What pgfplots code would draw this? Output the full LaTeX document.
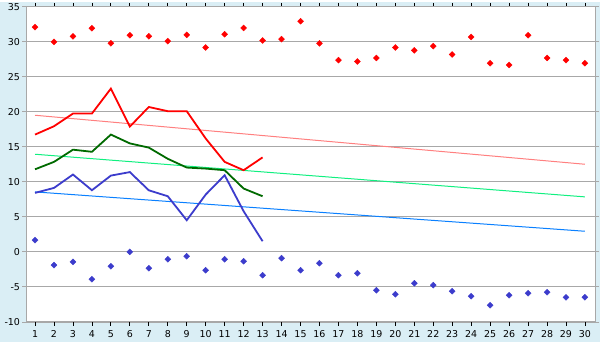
\documentclass[border=0pt]{standalone}
\usepackage{pgfplots}
\pgfplotsset{compat=1.18}
\usepackage{fontspec}
\setmainfont{DejaVu Sans}
\definecolor{bgblue}{HTML}{DAEEF5}
\definecolor{gridgray}{HTML}{A8A8A8}
\definecolor{lred}{HTML}{FF8080}
\definecolor{dgreen}{HTML}{006A00}
\definecolor{lgreen}{HTML}{10F080}
\definecolor{mblue}{HTML}{3C3CCC}
\definecolor{tblue}{HTML}{0A80FF}
\begin{document}
\begin{tikzpicture}[x=1bp,y=1bp]
\fill[bgblue] (-26.5bp,-20bp) rectangle (573.5bp,320bp);
\begin{axis}[
  scale only axis, width=568.5bp, height=315bp,
  at={(0,0)}, anchor=south west,
  xmin=0.55, xmax=30.53, ymin=-10, ymax=35,
  xtick={1,...,30}, ytick={-10,-5,...,35},
  axis background/.style={fill=white},
  axis line style={draw=gridgray, line width=1bp},
  ymajorgrids, grid style={gridgray, line width=0.8bp},
  tick align=outside, major tick length=4bp,
  tick style={black, line width=0.8bp},
  xtick style={black}, ytick style={gridgray},
  /pgf/number format/assume math mode=true,
  tick label style={font=\fontsize{9.5}{11}\selectfont},
  xticklabel style={yshift=-1bp},
  yticklabel style={xshift=1bp},
  clip=false,
]
% trend lines
\addplot[lred, line width=1bp, no marks] coordinates {(1,19.52)(30,12.52)};
\addplot[lgreen, line width=1bp, no marks] coordinates {(1,13.95)(30,7.86)};
\addplot[tblue, line width=1bp, no marks] coordinates {(1,8.57)(30,2.95)};
% lines
\addplot[red, line width=1.8bp, no marks] coordinates {
(1,16.76)(2,17.95)(3,19.76)(4,19.76)(5,23.33)(6,17.9)(7,20.7)(8,20.1)(9,20.1)(10,16.2)(11,12.86)(12,11.67)(13,13.5)};
\addplot[dgreen, line width=1.8bp, no marks] coordinates {
(1,11.8)(2,12.86)(3,14.6)(4,14.3)(5,16.76)(6,15.5)(7,14.9)(8,13.3)(9,12.05)(10,11.9)(11,11.67)(12,9.05)(13,7.95)};
\addplot[mblue, line width=1.8bp, no marks] coordinates {
(1,8.43)(2,9.14)(3,11.05)(4,8.81)(5,10.9)(6,11.4)(7,8.8)(8,7.95)(9,4.52)(10,8.19)(11,10.95)(12,5.81)(13,1.52)};
% max markers
\addplot[red, only marks, mark=square*, mark size=2.1bp, mark options={rotate=45}] coordinates {
(1,32.1)(2,30)(3,30.8)(4,31.95)(5,29.8)(6,30.95)(7,30.8)(8,30.1)(9,31.0)(10,29.2)
(11,31.1)(12,32.0)(13,30.2)(14,30.4)(15,32.95)(16,29.8)(17,27.4)(18,27.2)(19,27.7)(20,29.2)
(21,28.8)(22,29.4)(23,28.2)(24,30.7)(25,26.95)(26,26.7)(27,30.95)(28,27.7)(29,27.4)(30,26.95)};
% min markers
\addplot[mblue, only marks, mark=square*, mark size=2.1bp, mark options={rotate=45}] coordinates {
(1,1.67)(2,-1.9)(3,-1.43)(4,-3.9)(5,-2.05)(6,0.0)(7,-2.33)(8,-1.05)(9,-0.62)(10,-2.62)
(11,-1.05)(12,-1.33)(13,-3.33)(14,-0.9)(15,-2.62)(16,-1.62)(17,-3.33)(18,-3.05)(19,-5.48)(20,-6.05)
(21,-4.48)(22,-4.76)(23,-5.62)(24,-6.33)(25,-7.62)(26,-6.19)(27,-5.9)(28,-5.76)(29,-6.48)(30,-6.48)};
\end{axis}
\end{tikzpicture}
\end{document}
